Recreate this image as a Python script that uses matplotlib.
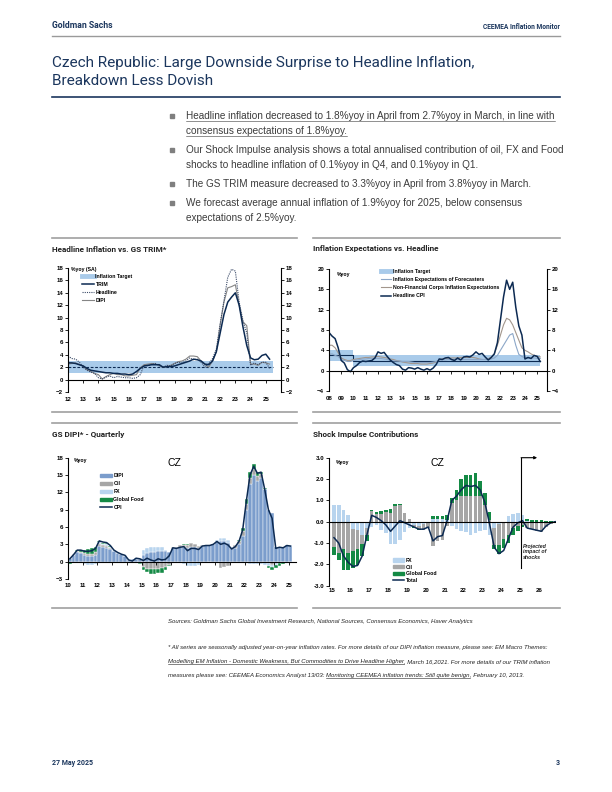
import matplotlib
matplotlib.use("Agg")
import matplotlib.pyplot as plt
import numpy as np
from matplotlib.lines import Line2D
from matplotlib.patches import Patch

# ---------------- data ----------------
# Headline Inflation vs. GS TRIM (quarterly, from 2012Q1)
c1_start = 2012.0
c1_trim = [2.7, 2.7, 2.6, 2.4,
           2.2, 1.8, 1.5, 1.4,
           1.3, 1.2, 1.1, 1.1,
           1.0, 1.0, 0.9, 0.9,
           0.8, 0.9, 1.3, 1.8,
           2.2, 2.3, 2.4, 2.4,
           2.4, 2.0, 2.1, 2.1,
           2.2, 2.4, 2.6, 2.8,
           3.0, 3.3, 3.2, 3.0,
           2.5, 2.4, 3.0, 4.5,
           7.5, 10.5, 12.5, 13.3,
           14.0, 12.0, 8.5, 5.5,
           3.5, 3.2, 3.3, 3.9,
           4.1, 3.3]
c1_headline = [3.8, 3.4, 3.3, 2.8,
               2.0, 1.5, 1.2, 1.0,
               0.3, 0.1, 0.4, 0.6,
               0.3, 0.5, 0.4, 0.3,
               0.3, 0.2, 0.3, 0.8,
               2.3, 2.2, 2.5, 2.6,
               2.2, 2.0, 2.3, 2.2,
               2.6, 2.8, 2.7, 3.0,
               3.5, 3.2, 3.3, 2.8,
               2.0, 2.6, 3.4, 4.9,
               9.0, 12.7, 16.5, 17.8,
               17.5, 12.5, 9.5, 7.5,
               2.3, 2.7, 2.4, 2.8,
               2.8, 1.8]
c1_dipi = [2.5, 2.6, 2.7, 2.4,
           2.2, 1.6, 1.3, 1.0,
           0.8, 0.1, 0.5, 0.8,
           1.0, 0.8, 0.8, 0.6,
           0.6, 0.7, 0.8, 1.9,
           2.4, 2.5, 2.6, 2.5,
           2.3, 2.0, 2.1, 2.3,
           2.6, 2.9, 3.0, 3.3,
           3.8, 3.8, 3.7, 3.0,
           2.4, 2.0, 3.0, 4.5,
           8.8, 12.5, 14.8, 15.0,
           15.3, 12.0, 9.3, 8.7,
           2.5, 2.5, 2.3, 2.8,
           2.7, 2.5]
c1_target_span = [2012.0, 2025.45]
c1_target_low, c1_target_high, c1_target_mid = 1.0, 3.0, 2.0

# Inflation Expectations vs. Headline (quarterly, from 2008Q1)
c2_start = 2008.0
c2_cpi = [7.5, 6.8, 6.3, 4.5,
          2.0, 1.5, 0.2, -0.2,
          0.6, 1.0, 1.6, 1.9,
          1.8, 1.9, 2.0, 2.5,
          3.7, 3.4, 3.6, 2.8,
          2.1, 1.6, 1.2, 1.0,
          0.3, 0.1, 0.6, 0.5,
          0.3, 0.6, 0.3, 0.1,
          0.4, 0.1, 0.5, 1.2,
          2.3, 2.2, 2.5, 2.6,
          2.2, 2.0, 2.5, 2.1,
          2.7, 2.8, 2.7, 3.1,
          3.7, 3.2, 3.4, 2.7,
          2.1, 2.6, 3.3, 5.5,
          10.0, 14.5, 17.8, 16.0,
          17.4, 12.5, 8.8, 7.0,
          2.3, 2.6, 2.4, 3.0,
          2.8, 1.8]
c2_forecasters = [3.2, 3.3, 3.0, 2.8,
                  2.2, 2.0, 1.8, 1.8,
                  2.0, 2.1, 2.2, 2.3,
                  2.3, 2.4, 2.4, 2.4,
                  2.4, 2.4, 2.3, 2.2,
                  2.0, 1.9, 1.9, 1.9,
                  1.8, 1.8, 1.8, 1.7,
                  1.6, 1.6, 1.6, 1.6,
                  1.6, 1.6, 1.7, 1.8,
                  2.0, 2.1, 2.1, 2.2,
                  2.2, 2.2, 2.2, 2.2,
                  2.2, 2.2, 2.2, 2.2,
                  2.2, 2.2, 2.2, 2.2,
                  2.2, 2.3, 2.5, 3.0,
                  4.0, 5.0, 6.0, 7.0,
                  7.3, 5.0, 3.2, 2.8,
                  2.5, 2.5, 2.5, 2.5,
                  2.4, 2.4]
c2_nfc = [5.0, 5.0, 4.5, 3.5,
          2.5, 2.2, 2.0, 2.0,
          2.2, 2.3, 2.4, 2.5,
          2.6, 2.6, 2.7, 2.7,
          2.8, 2.7, 2.6, 2.5,
          2.3, 2.2, 2.0, 1.9,
          1.7, 1.6, 1.5, 1.4,
          1.4, 1.4, 1.3, 1.3,
          1.3, 1.4, 1.5, 1.7,
          2.1, 2.3, 2.4, 2.5,
          2.5, 2.5, 2.5, 2.6,
          2.6, 2.6, 2.6, 2.6,
          2.5, 2.3, 2.2, 2.2,
          2.3, 2.7, 3.3, 5.0,
          7.0, 9.0, 10.3, 10.0,
          9.0, 7.5, 6.0, 4.5,
          4.0, 3.7, 3.3, 3.0,
          2.8, 2.7]
c2_target_years = [2008.0, 2010.0, 2025.2]
c2_target_low = [2.0, 1.0, 1.0]
c2_target_high = [4.0, 3.0, 3.0]
c2_target_mid = [3.0, 2.0, 2.0]

# GS DIPI - quarterly contributions (from 2010Q1)
c3_start = 2010.0
c3_dipi = [0.6, 1.2, 1.6, 1.5,
           1.2, 1.0, 1.0, 1.2,
           2.7, 2.5, 2.4, 2.2,
           1.8, 1.5, 1.3, 1.0,
           0.3, 0.4, 0.5, 0.5,
           1.2, 1.5, 1.6, 1.7,
           1.8, 1.9, 1.8, 1.6,
           2.3, 2.4, 2.5, 2.5,
           2.3, 2.6, 2.5, 2.4,
           2.7, 2.8, 2.9, 3.0,
           3.4, 3.5, 3.5, 3.2,
           2.4, 2.4, 3.0, 4.5,
           9.0, 13.5, 15.0, 14.0,
           14.5, 12.5, 9.0, 8.5,
           2.6, 2.5, 2.5, 2.8,
           2.7]
c3_oil = [0.0, 0.2, 0.2, 0.2,
          0.3, 0.3, 0.4, 0.5,
          0.4, 0.3, 0.3, 0.2,
          0.1, 0.0, 0.0, 0.0,
          -0.1, -0.1, -0.1, -0.3,
          -1.0, -1.2, -1.3, -1.3,
          -1.2, -1.1, -0.9, -0.5,
          0.3, 0.2, 0.3, 0.4,
          0.6, 0.6, 0.5, 0.3,
          0.1, 0.0, -0.1, -0.2,
          -0.3, -1.1, -0.9, -0.8,
          -0.2, 0.4, 0.5, 0.8,
          1.0, 1.0, 1.0, 0.9,
          0.6, 0.1, -0.3, -0.5,
          -0.3, -0.2, -0.1, 0.0,
          -0.1]
c3_fx = [0.0, 0.0, -0.2, -0.3,
         -0.4, -0.5, -0.5, -0.4,
         0.3, 0.3, 0.3, 0.2,
         0.1, 0.1, 0.1, 0.2,
         0.2, 0.0, 0.1, 0.1,
         0.9, 0.9, 1.0, 0.9,
         0.8, 0.6, 0.3, 0.0,
         -0.2, -0.2, -0.3, -0.4,
         -0.7, -0.8, -0.7, -0.6,
         -0.3, -0.2, -0.1, 0.0,
         0.4, 0.6, 0.6, 0.5,
         0.2, -0.2, -0.3, -0.3,
         -0.3, -0.4, -0.4, -0.4,
         -0.4, -0.5, -0.5, -0.5,
         -0.3, -0.1, 0.0, 0.1,
         0.1]
c3_food = [-0.4, 0.0, 0.2, 0.4,
           0.6, 0.9, 0.9, 0.8,
           0.2, 0.2, 0.2, 0.1,
           0.0, 0.0, 0.0, 0.0,
           0.0, -0.1, 0.0, -0.1,
           -0.5, -0.6, -0.8, -0.8,
           -0.8, -0.8, -0.6, -0.3,
           0.0, 0.0, 0.1, 0.2,
           0.1, 0.0, 0.0, 0.0,
           0.0, 0.0, 0.0, 0.0,
           0.0, 0.0, 0.0, 0.0,
           0.0, 0.0, 0.2, 0.5,
           0.8, 1.0, 0.9, 0.7,
           0.5, 0.2, -0.3, -0.5,
           -0.5, -0.4, -0.3, -0.2,
           -0.1]
c3_cpi = [0.5, 1.2, 2.0, 2.0,
          1.8, 1.8, 1.9, 2.3,
          3.6, 3.4, 3.3, 2.8,
          2.0, 1.6, 1.3, 1.1,
          0.3, 0.1, 0.6, 0.5,
          0.2, 0.6, 0.3, 0.1,
          0.5, 0.3, 0.4, 1.0,
          2.4, 2.3, 2.5, 2.6,
          1.9, 2.3, 2.3, 2.1,
          2.7, 2.8, 2.8, 3.0,
          3.5, 3.0, 3.2, 2.9,
          2.2, 2.6, 3.5, 5.5,
          10.5, 15.0, 16.5, 15.3,
          15.5, 12.5, 9.0, 7.5,
          2.3, 2.5, 2.4, 2.8,
          2.7]

# Shock Impulse Contributions (quarterly, from 2015Q1; 2025Q2 onwards projected)
c4_start = 2015.0
c4_fx = [0.80, 0.80, 0.55, 0.30,
         -0.35, -0.40, -0.60, -0.30,
         -0.25, -0.15, -0.40, -0.55,
         -1.05, -1.05, -0.85, -0.50,
         -0.30, -0.15, -0.20, -0.10,
         0.00, 0.15, 0.15, 0.15,
         0.10, -0.20, -0.35, -0.45,
         -0.50, -0.60, -0.55, -0.45,
         -0.40, -0.60, -0.30, -0.10,
         0.00, 0.25, 0.35, 0.40,
         0.30, 0.05, 0.00, -0.05,
         -0.05, 0.00, 0.00, 0.00]
c4_oil = [-1.20, -1.45, -1.30, -1.45,
          -1.00, -0.90, -0.45, -0.30,
          0.50, 0.35, 0.35, 0.45,
          0.40, 0.75, 0.80, 0.40,
          0.15, -0.10, -0.15, -0.30,
          -0.30, -1.15, -0.90, -0.85,
          -0.20, 0.90, 1.00, 1.20,
          1.20, 1.20, 1.20, 1.20,
          0.80, 0.10, -0.80, -1.00,
          -0.80, -0.60, -0.30, -0.20,
          -0.15, -0.30, -0.35, -0.40,
          -0.45, -0.25, -0.10, -0.05]
c4_food = [-0.35, -0.35, -0.95, -0.80,
           -0.80, -0.75, -0.55, -0.30,
           0.05, 0.10, 0.15, 0.10,
           0.20, 0.10, 0.05, 0.00,
           0.00, -0.05, -0.05, 0.00,
           0.00, 0.10, 0.10, 0.10,
           0.20, 0.20, 0.50, 0.80,
           1.00, 1.00, 1.10, 0.70,
           0.55, 0.35, -0.20, -0.40,
           -0.45, -0.40, -0.30, -0.25,
           -0.10, 0.10, 0.08, 0.07,
           0.06, 0.05, 0.04, 0.03]
c4_total = [-0.75, -1.00, -1.60, -1.90,
            -2.10, -2.05, -1.60, -0.60,
            0.30, 0.20, 0.05, -0.15,
            -0.45, -0.20, 0.05, -0.05,
            -0.15, -0.25, -0.35, -0.35,
            -0.25, -0.90, -0.70, -0.65,
            0.05, 1.00, 1.20, 1.50,
            1.70, 1.65, 1.70, 1.50,
            0.90, -0.10, -1.20, -1.50,
            -1.35, -0.80, -0.25, -0.05,
            0.05, -0.30, -0.35, -0.40,
            -0.45, -0.20, -0.05, 0.00]
c4_proj_start = 2025.05
c4_proj_end = 2025.9

# ---------------- style ----------------
W, H = 612, 792
NAVY = "#0c2a52"
HEAD = "#1b365d"
BAND = "#a9cbea"
DIPI_BLUE = "#7b9dcc"
OIL = "#a6a6a6"
FX = "#b8d4ee"
FOOD = "#148a45"
RULE = "#a0a0a0"
TXT = "#3c3c3c"

SANS = ["Liberation Sans", "DejaVu Sans"]
COND = ["Roboto", "Liberation Sans", "DejaVu Sans"]
plt.rcParams["font.family"] = SANS
TICK = 4.4
LEG = 3.7


def frame(x0, y0, x1, y1):
    return [x0 / W, 1 - y1 / H, (x1 - x0) / W, (y1 - y0) / H]


def hline(fig, x0, x1, y, color=RULE, lw=1.2):
    fig.add_artist(Line2D([x0 / W, x1 / W], [1 - y / H] * 2, color=color, lw=lw))


def ftext(fig, x, y, s, **kw):
    return fig.text(x / W, 1 - y / H, s, **kw)


def text_runs(fig, x, y, runs, size, color, style="normal"):
    r = fig.canvas.get_renderer()
    for s, under in runs:
        gap = s.endswith(" ")
        t = ftext(fig, x, y, s.rstrip(), fontsize=size, color=color, style=style,
                  va="center", ha="left")
        bb = t.get_window_extent(r)
        if under:
            yy = (bb.y0 + 0.2) / H
            fig.add_artist(Line2D([bb.x0 / W, bb.x1 / W], [yy, yy], color=color, lw=0.4))
        x = bb.x1 + (size * 0.4 if gap else 0)


def bold_labels(ax):
    for lab in ax.get_xticklabels() + ax.get_yticklabels():
        lab.set_fontweight("bold")


def style_axis(ax, xticks, xlabels, zero_pad, right=False):
    for s in ["top", "right"]:
        ax.spines[s].set_visible(False)
    ax.spines["left"].set_linewidth(0.8)
    ax.spines["bottom"].set_position(("data", 0))
    ax.spines["bottom"].set_linewidth(0.8)
    ax.set_xticks(xticks)
    ax.set_xticklabels(xlabels)
    ax.tick_params(axis="x", length=2, width=0.6, pad=zero_pad, labelsize=TICK)
    ax.tick_params(axis="y", length=2, width=0.6, pad=1.5, labelsize=TICK)
    if right:
        ax.spines["right"].set_visible(True)
        ax.spines["right"].set_linewidth(0.8)
        ax.tick_params(axis="y", right=True, labelright=True)
    bold_labels(ax)


def small_legend(ax, handles, labels, anchor, loc="upper left", spacing=0.6, hl=2.3):
    leg = ax.legend(handles, labels, loc=loc, bbox_to_anchor=anchor, frameon=False,
                    fontsize=LEG, handlelength=hl, handleheight=0.6, handletextpad=0.3,
                    labelspacing=spacing, borderpad=0, borderaxespad=0)
    for t in leg.get_texts():
        t.set_fontweight("bold")
    return leg


fig = plt.figure(figsize=(W / 100, H / 100), dpi=100)

# ---------------- header ----------------
ftext(fig, 52, 26, "Goldman Sachs", fontsize=6.2, fontweight="bold", color=HEAD,
      family=COND, va="center")
ftext(fig, 560, 27, "CEEMEA Inflation Monitor", fontsize=4.8, fontweight="bold",
      color=HEAD, family=COND, va="center", ha="right")
hline(fig, 52, 560, 36, color="#9a9a9a", lw=1.0)
ftext(fig, 52, 63, "Czech Republic: Large Downside Surprise to Headline Inflation,",
      fontsize=11.0, color=HEAD, family=COND, va="center")
ftext(fig, 52, 81, "Breakdown Less Dovish", fontsize=11.0, color=HEAD, family=COND,
      va="center")
hline(fig, 52, 560, 97, color=HEAD, lw=1.2)

# ---------------- bullets ----------------
bullets = [
    (["Headline inflation decreased to 1.8%yoy in April from 2.7%yoy in March, in line with",
      "consensus expectations of 1.8%yoy."], True),
    (["Our Shock Impulse analysis shows a total annualised contribution of oil, FX and Food",
      "shocks to headline inflation of 0.1%yoy in Q4, and 0.1%yoy in Q1."], False),
    (["The GS TRIM measure decreased to 3.3%yoy in April from 3.8%yoy in March."], False),
    (["We forecast average annual inflation of 1.9%yoy for 2025, below consensus",
      "expectations of 2.5%yoy."], False),
]
y = 116
for lines, under in bullets:
    fig.add_artist(plt.Rectangle((169.5 / W, 1 - (y + 2.2) / H), 4.4 / W, 4.4 / H,
                                 color="#7f7f7f", transform=fig.transFigure))
    for ln in lines:
        text_runs(fig, 186, y, [(ln, under)], 7.2, TXT)
        y += 15
    y += 4

# ---------------- chart frames ----------------
for yy in (238, 412, 423, 608):
    hline(fig, 52, 297, yy)
    hline(fig, 313, 560, yy)
for (cx, cy, title) in [(52, 249, "Headline Inflation vs. GS TRIM*"),
                        (313, 249, "Inflation Expectations vs. Headline"),
                        (52, 434, "GS DIPI* - Quarterly"),
                        (313, 434, "Shock Impulse Contributions")]:
    ftext(fig, cx, cy, title, fontsize=5.9, fontweight="bold", family=COND,
          color="#222222", va="center")

# ---------------- chart 1 ----------------
ax1 = fig.add_axes(frame(68, 268, 281, 392))
x1 = c1_start + 0.25 * np.arange(len(c1_trim))
ax1.fill_between(c1_target_span, c1_target_low, c1_target_high, color=BAND, lw=0)
ax1.plot(c1_target_span, [c1_target_mid] * 2, color=NAVY, lw=0.8, ls=(0, (2.5, 1.5)))
ax1.plot(x1, c1_dipi, color="#858585", lw=0.8)
ax1.plot(x1, c1_headline, color="#3a4a68", lw=0.8, ls=(0, (1, 1)))
ax1.plot(x1, c1_trim, color=NAVY, lw=1.1)
ax1.set_xlim(2012, 2026)
ax1.set_ylim(-2, 18)
ax1.set_yticks(range(-2, 19, 2))
yrs1 = list(range(2012, 2026))
style_axis(ax1, yrs1, [f"{y % 100:02d}" for y in yrs1], 10.5, right=True)
ax1.text(0.014, 0.985, "%yoy (SA)", transform=ax1.transAxes, fontsize=LEG,
         fontweight="bold", va="center")
h1 = [Line2D([], [], color=BAND, lw=3.5),
      Line2D([], [], color=NAVY, lw=1.1),
      Line2D([], [], color="#3a4a68", lw=0.8, ls=(0, (1, 1))),
      Line2D([], [], color="#858585", lw=0.8)]
small_legend(ax1, h1, ["Inflation Target", "TRIM", "Headline", "DIPI"], (0.066, 0.955))

# ---------------- chart 2 ----------------
ax2 = fig.add_axes(frame(329, 269, 547, 391))
x2 = c2_start + 0.25 * np.arange(len(c2_cpi))
ax2.fill_between(c2_target_years, c2_target_low, c2_target_high, step="post",
                 color=BAND, lw=0)
ax2.step(c2_target_years, c2_target_mid, where="post", color=NAVY, lw=0.8)
ax2.plot(x2, c2_nfc, color="#a2968c", lw=0.8)
ax2.plot(x2, c2_forecasters, color="#8ca7c8", lw=0.8)
ax2.plot(x2, c2_cpi, color=NAVY, lw=1.1)
ax2.set_xlim(2008, 2025.8)
ax2.set_ylim(-4, 20)
ax2.set_yticks(range(-4, 21, 4))
yrs2 = list(range(2008, 2026))
style_axis(ax2, yrs2, [f"{y % 100:02d}" for y in yrs2], 16, right=True)
ax2.text(0.035, 0.955, "%yoy", transform=ax2.transAxes, fontsize=LEG,
         fontweight="bold", va="center")
h2 = [Line2D([], [], color=BAND, lw=3.5),
      Line2D([], [], color="#8ca7c8", lw=0.8),
      Line2D([], [], color="#a2968c", lw=0.8),
      Line2D([], [], color=NAVY, lw=1.1)]
small_legend(ax2, h2, ["Inflation Target", "Inflation Expectations of Forecasters",
                       "Non-Financial Corps Inflation Expectations", "Headline CPI"],
             (0.24, 1.0), hl=1.9)


def stacked(ax, x, comps, colors, width, **kw):
    pos = np.zeros(len(x))
    neg = np.zeros(len(x))
    for vals, c in zip(comps, colors):
        v = np.asarray(vals, dtype=float)
        ax.bar(x, v, width, bottom=np.where(v >= 0, pos, neg), color=c, **kw)
        pos = pos + np.clip(v, 0, None)
        neg = neg + np.clip(v, None, 0)


# ---------------- chart 3 ----------------
ax3 = fig.add_axes(frame(68, 457.7, 296, 579))
x3 = c3_start + 0.25 * np.arange(len(c3_dipi)) + 0.125
stacked(ax3, x3, [c3_dipi, c3_oil, c3_fx, c3_food], [DIPI_BLUE, OIL, FX, FOOD], 0.25,
        edgecolor="white", linewidth=0.3)
ax3.plot(x3, c3_cpi, color=NAVY, lw=1.1)
ax3.set_xlim(2010, 2025.5)
ax3.set_ylim(-3, 18)
ax3.set_yticks(range(-3, 19, 3))
yrs3 = list(range(2010, 2026))
style_axis(ax3, yrs3, [f"{y % 100:02d}" for y in yrs3], 13)
ax3.text(0.026, 0.975, "%yoy", transform=ax3.transAxes, fontsize=LEG,
         fontweight="bold", va="center")
ax3.text(0.465, 0.955, "CZ", transform=ax3.transAxes, fontsize=7.5, va="center",
         ha="center")
h3 = [Patch(color=DIPI_BLUE), Patch(color=OIL), Patch(color=FX), Patch(color=FOOD),
      Line2D([], [], color=NAVY, lw=1.1)]
small_legend(ax3, h3, ["DIPI", "Oil", "FX", "Global Food", "CPI"], (0.14, 0.87),
             spacing=0.55)

# ---------------- chart 4 ----------------
ax4 = fig.add_axes(frame(329, 457.7, 556, 585.7))
x4 = c4_start + 0.25 * np.arange(len(c4_fx)) + 0.125
stacked(ax4, x4, [c4_fx, c4_oil, c4_food], [FX, OIL, FOOD], 0.19, linewidth=0)
ax4.plot(x4, c4_total, color=NAVY, lw=1.1)
ax4.axhline(0, color="black", lw=0.8)
ax4.set_xlim(2014.86, 2026.9)
ax4.set_ylim(-3, 3)
ax4.set_yticks(np.arange(-3, 3.01, 1.0))
ax4.set_yticklabels([f"{v:.1f}" for v in np.arange(-3, 3.01, 1.0)])
yrs4 = list(range(2015, 2027))
ax4.set_xticks(yrs4)
ax4.set_xticklabels([f"{y % 100:02d}" for y in yrs4])
for s in ["top", "right", "bottom"]:
    ax4.spines[s].set_visible(False)
ax4.spines["left"].set_linewidth(0.8)
ax4.tick_params(axis="x", length=0, pad=2, labelsize=TICK)
ax4.tick_params(axis="y", length=2, width=0.6, pad=1.5, labelsize=TICK)
bold_labels(ax4)
ax4.plot([c4_proj_start, c4_proj_start], [-2.15, 3.0], color="black", lw=0.8,
         clip_on=False)
ax4.annotate("", xy=(c4_proj_end, 3.0), xytext=(c4_proj_start, 3.0),
             arrowprops=dict(arrowstyle="-|>", color="black", lw=0.8,
                             mutation_scale=4, shrinkA=0, shrinkB=0),
             annotation_clip=False)
ax4.text(c4_proj_start + 0.08, -1.05, "Projected\nimpact of\nshocks", fontsize=3.8,
         fontweight="bold", style="italic", va="top", ha="left", linespacing=1.1,
         color="#222222")
ax4.text(0.03, 0.96, "%yoy", transform=ax4.transAxes, fontsize=LEG,
         fontweight="bold", va="center")
ax4.text(0.476, 0.955, "CZ", transform=ax4.transAxes, fontsize=7.5, va="center",
         ha="center")
h4 = [Patch(color=FX), Patch(color=OIL), Patch(color=FOOD),
      Line2D([], [], color=NAVY, lw=1.1)]
small_legend(ax4, h4, ["FX", "Oil", "Global Food", "Total"], (0.28, 0.02),
             loc="lower left", spacing=0.35)

# ---------------- sources / footnote ----------------
text_runs(fig, 168, 622, [("Sources: Goldman Sachs Global Investment Research, National Sources, "
                           "Consensus Economics, Haver Analytics", False)], 4.3, "#222222",
          style="italic")
text_runs(fig, 168, 647, [("* All series are seasonally adjusted year-on-year inflation rates. For more "
                           "details of our DIPI inflation measure, please see: EM Macro Themes:", False)],
          4.3, "#222222", style="italic")
text_runs(fig, 168, 662, [("Modelling EM Inflation - Domestic Weakness, But Commodities to Drive "
                           "Headline Higher", True),
                          (", March 16,2021. For more details of our TRIM inflation", False)],
          4.3, "#222222", style="italic")
text_runs(fig, 168, 676, [("measures please see: CEEMEA Economics Analyst 13/03: ", False),
                          ("Monitoring CEEMEA inflation trends: Still quite benign", True),
                          (", February 10, 2013.", False)], 4.3, "#222222", style="italic")

# ---------------- footer ----------------
ftext(fig, 52, 763, "27 May 2025", fontsize=5.0, fontweight="bold", color=HEAD,
      family=COND, va="center")
ftext(fig, 560, 763, "3", fontsize=5.0, fontweight="bold", color=HEAD, family=COND,
      va="center", ha="right")

fig.savefig("out.png", dpi=100, facecolor="white")
